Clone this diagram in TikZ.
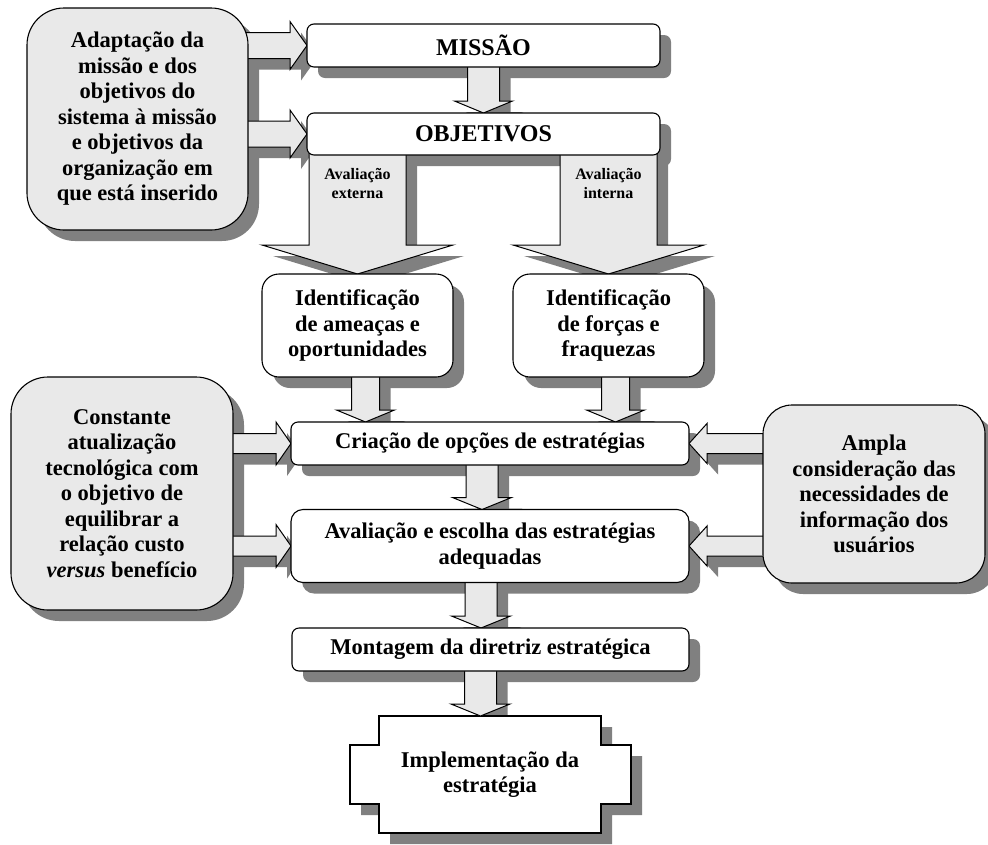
\documentclass[tikz,border=0pt]{standalone}
\usepackage{fontspec}
\setmainfont{Liberation Serif}
\usetikzlibrary{calc}
\pgfdeclarelayer{background}
\pgfdeclarelayer{shafts}
\pgfsetlayers{background,shafts,main}

\definecolor{boxgray}{RGB}{233,233,233}
\definecolor{shadowcol}{RGB}{128,128,128}
\def\shd{11pt}

% block arrow: from, to, shaft half width, head half width, head length
\newcommand{\blockarrow}[5]{%
  \coordinate (ba) at (#1);
  \coordinate (bb) at (#2);
  \coordinate (bh) at ($(bb)!#5!(ba)$);
  \begin{pgfonlayer}{background}
    \fill[shadowcol, transform canvas={xshift=\shd, yshift=-\shd}]
    ($(ba)!#3!90:(bb)$) -- ($(bh)!#3!90:(bb)$) -- ($(bh)!#4!90:(bb)$) -- (bb)
    -- ($(bh)!#4!-90:(bb)$) -- ($(bh)!#3!-90:(bb)$) -- ($(ba)!#3!-90:(bb)$) -- cycle;
  \end{pgfonlayer}
  \begin{pgfonlayer}{shafts}
    \draw[arrowfill]
    ($(ba)!#3!90:(bb)$) -- ($(bh)!#3!90:(bb)$) -- ($(bh)!#4!90:(bb)$) -- (bb)
    -- ($(bh)!#4!-90:(bb)$) -- ($(bh)!#3!-90:(bb)$) -- ($(ba)!#3!-90:(bb)$) -- cycle;
  \end{pgfonlayer}
}

\begin{document}
\begin{tikzpicture}[x=1pt,y=-1pt]
  \tikzstyle{sidebox}=[draw,line width=1.1pt,fill=boxgray,inner sep=0pt,outer sep=0pt,align=center,font=\fontsize{22.5}{25.5}\selectfont\bfseries]
  \tikzstyle{flowbox}=[sidebox,fill=white]
  \tikzstyle{arrowfill}=[draw,line width=1pt,fill=boxgray,line join=miter]
  \tikzstyle{smalllabel}=[align=center,font=\fontsize{16}{19}\selectfont\bfseries]

  \useasboundingbox (0,0) rectangle (988,844);

  % SIDE BOXES
  \node[sidebox,rounded corners=37pt,minimum width=221pt,minimum height=222pt] (adapt) at (137.5,119)
  {Adaptação da\\missão e dos\\objetivos do\\sistema à missão\\e objetivos da\\organização em\\que está inserido};
  \node[sidebox,rounded corners=37pt,minimum width=222pt,minimum height=233pt] (constante) at (122,493.5)
  {Constante\\atualização\\tecnológica com\\o objetivo de\\equilibrar a\\relação custo\\\textit{versus} benefício};
  \node[sidebox,rounded corners=29pt,minimum width=222pt,minimum height=178pt] (ampla) at (874,494)
  {Ampla\\consideração das\\necessidades de\\informação dos\\usuários};

  % FLOW BOXES
  \node[flowbox,rounded corners=7pt,minimum width=353pt,minimum height=43pt,font=\fontsize{24}{27}\selectfont\bfseries] (missao) at (483.5,45.5) {MISSÃO};
  \node[flowbox,rounded corners=7pt,minimum width=353pt,minimum height=42pt,font=\fontsize{24}{27}\selectfont\bfseries] (objetivos) at (483.5,134) {OBJETIVOS};
  \node[flowbox,rounded corners=17pt,minimum width=191pt,minimum height=103pt] (ameacas) at (357.5,325.5)
  {Identificação\\de ameaças e\\oportunidades};
  \node[flowbox,rounded corners=17pt,minimum width=191pt,minimum height=103pt] (forcas) at (608.5,325.5)
  {Identificação\\de forças e\\fraquezas};
  \node[flowbox,rounded corners=7pt,minimum width=398pt,minimum height=43pt] (criacao) at (490,443.5)
  {Criação de opções de estratégias};
  \node[flowbox,rounded corners=12pt,minimum width=398pt,minimum height=73pt] (avaliacao) at (490,546)
  {Avaliação e escolha das estratégias\\adequadas};
  \node[flowbox,rounded corners=7pt,minimum width=397pt,minimum height=43pt] (montagem) at (490.5,649.5)
  {Montagem da diretriz estratégica};

  % IMPLEMENTATION
  \node[inner sep=0pt,outer sep=0pt,minimum width=222pt,minimum height=117pt,align=center,font=\fontsize{22.5}{25.5}\selectfont\bfseries] (impl) at (490,774.5)
  {Implementação da\\estratégia};
  \begin{pgfonlayer}{shafts}
    \draw[line width=1.1pt,fill=white]
    (impl.north west) -- (impl.north east) -- ++(0,29) -- ++(30,0) -- ++(0,59) -- ++(-30,0)
    -- (impl.south east) -- (impl.south west) -- ++(0,-29) -- ++(-29,0) -- ++(0,-59) -- ++(29,0) -- cycle;
  \end{pgfonlayer}

  % SHADOWS
  \begin{pgfonlayer}{background}
    \foreach \n/\r in {adapt/37pt,constante/37pt,ampla/29pt,missao/7pt,objetivos/7pt,ameacas/17pt,forcas/17pt,criacao/7pt,avaliacao/12pt,montagem/7pt}{
        \fill[shadowcol,rounded corners=\r,transform canvas={xshift=\shd,yshift=-\shd}]
        (\n.south west) rectangle (\n.north east);
      }
    \fill[shadowcol,transform canvas={xshift=\shd,yshift=-\shd}]
    (impl.north west) -- (impl.north east) -- ++(0,29) -- ++(30,0) -- ++(0,59) -- ++(-30,0)
    -- (impl.south east) -- (impl.south west) -- ++(0,-29) -- ++(-29,0) -- ++(0,-59) -- ++(29,0) -- cycle;
  \end{pgfonlayer}

  % ARROWS
  \blockarrow{adapt.center |- missao.west}{missao.west}{13pt}{24pt}{17pt}
  \blockarrow{adapt.center |- objetivos.west}{objetivos.west}{13pt}{24pt}{17pt}
  \blockarrow{missao.center}{objetivos.north}{16pt}{29pt}{12pt}

  \blockarrow{ameacas.north |- objetivos.center}{ameacas.north}{48.5pt}{95.5pt}{29pt}
  \blockarrow{forcas.north |- objetivos.center}{forcas.north}{48.5pt}{95.5pt}{29pt}
  \node[smalllabel] (ext) at ($(objetivos.south -| ameacas.north)+(0,28)$) {Avaliação\\externa};
  \node[smalllabel] (int) at ($(objetivos.south -| forcas.north)+(0,28)$) {Avaliação\\interna};

  \coordinate (ta) at ([xshift=8pt]ameacas.center);
  \coordinate (tf) at ([xshift=7pt]forcas.center);
  \blockarrow{ta}{ta |- criacao.north}{14pt}{29pt}{12pt}
  \blockarrow{tf}{tf |- criacao.north}{14pt}{29pt}{12pt}

  \blockarrow{constante.center |- criacao.west}{criacao.west}{10pt}{21.5pt}{15pt}
  \blockarrow{constante.center |- avaliacao.west}{avaliacao.west}{10pt}{21.5pt}{15pt}
  \blockarrow{ampla.center |- criacao.east}{criacao.east}{10pt}{20pt}{18pt}
  \blockarrow{ampla.center |- avaliacao.east}{avaliacao.east}{10pt}{20pt}{18pt}

  \coordinate (tc) at ([xshift=-8pt]criacao.center);
  \blockarrow{tc}{tc |- avaliacao.north}{16pt}{29.5pt}{12pt}
  \coordinate (tv) at ([xshift=-9pt]avaliacao.center);
  \blockarrow{tv}{tv |- montagem.north}{16pt}{29.5pt}{12pt}
  \coordinate (tm) at ([xshift=-10pt]montagem.center);
  \blockarrow{tm}{tm |- impl.north}{16pt}{29.5pt}{12pt}
\end{tikzpicture}
\end{document}
